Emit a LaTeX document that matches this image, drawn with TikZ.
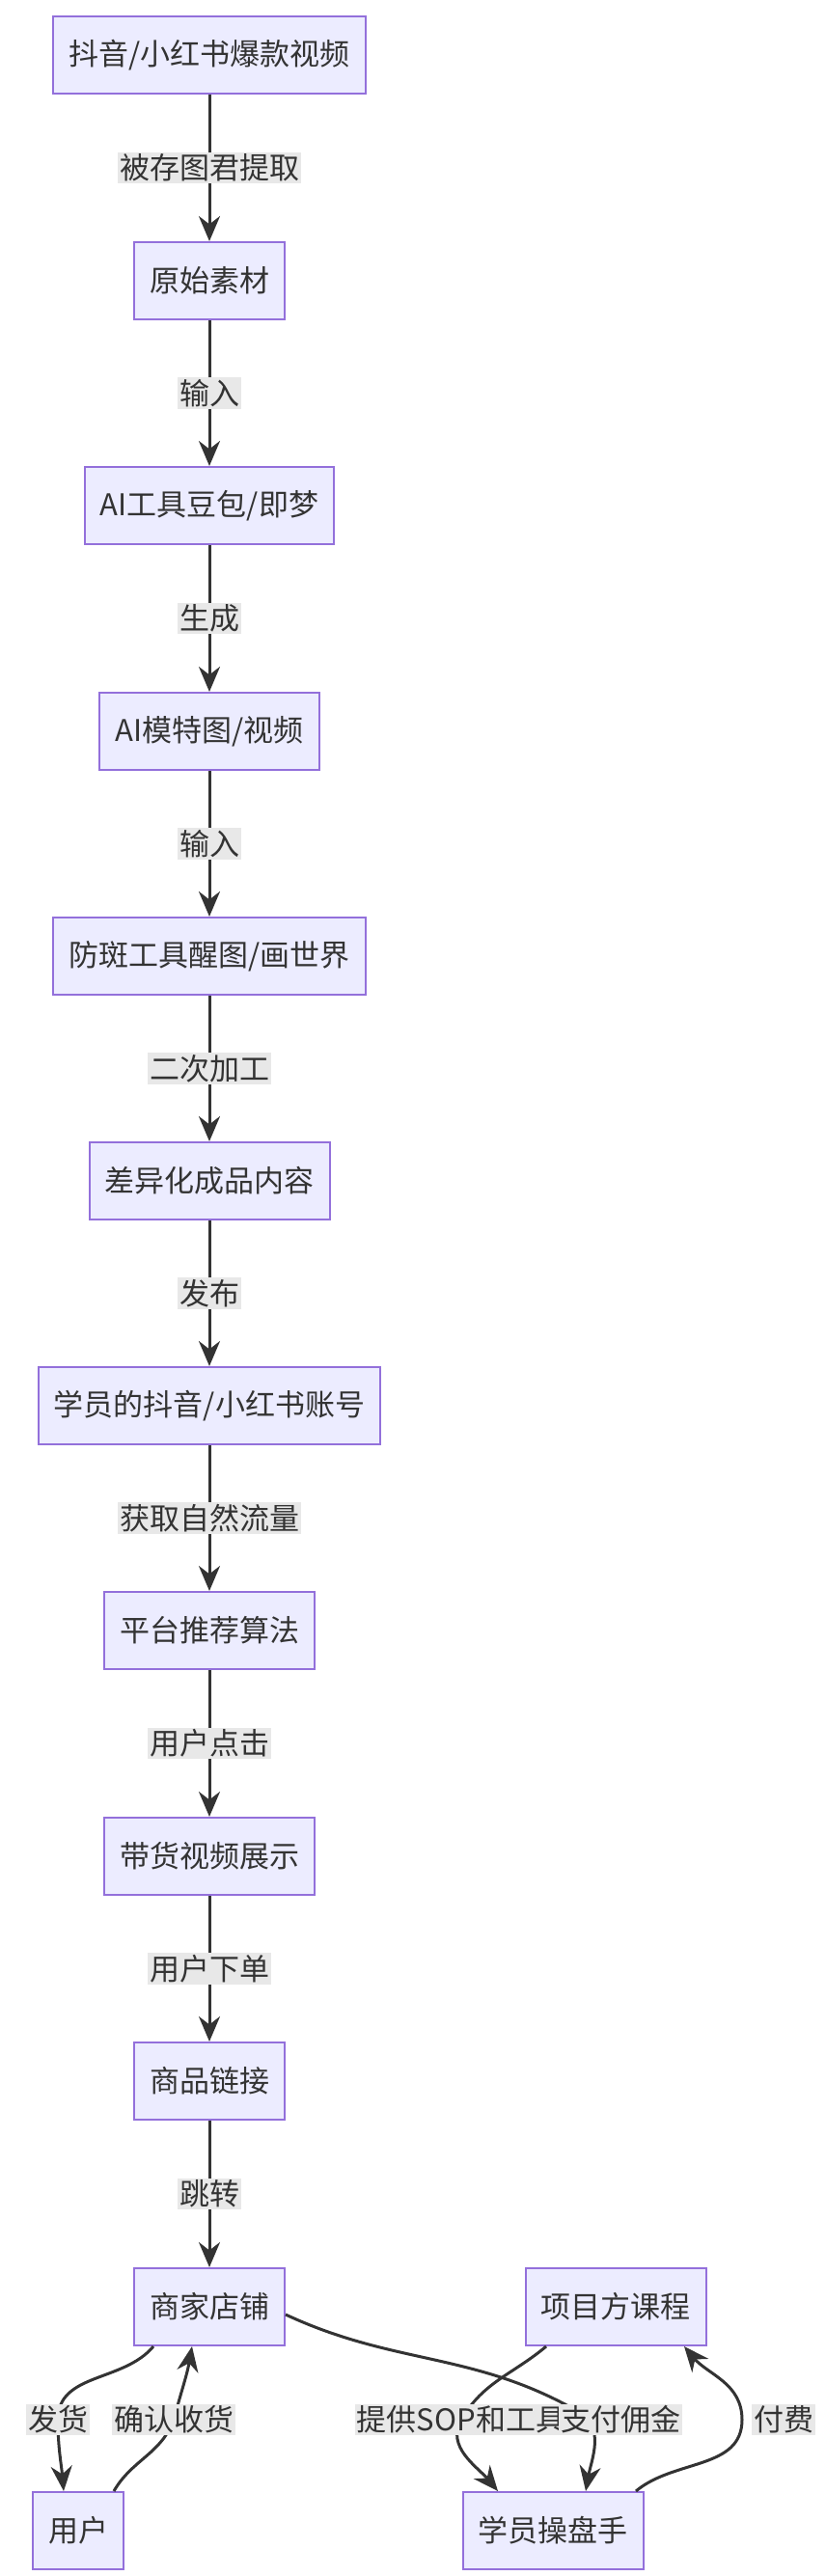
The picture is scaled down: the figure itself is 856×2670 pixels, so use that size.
\documentclass[tikz,border=0pt]{standalone}
\usepackage{fontspec}
\setmainfont{Noto Sans CJK SC}
\usetikzlibrary{positioning,arrows.meta}
\definecolor{boxfill}{HTML}{ECECFF}
\definecolor{boxline}{HTML}{9370DB}
\definecolor{linkc}{HTML}{333333}
\definecolor{lblfill}{HTML}{E8E8E8}
\tikzset{
  box/.style={draw=boxline,fill=boxfill,line width=2pt,minimum height=80pt,inner xsep=16pt,font=\fontsize{31}{37}\selectfont,text=linkc},
  link/.style={draw=linkc,line width=3pt,-{Stealth[length=26pt,width=22pt]}},
  lbl/.style={fill=lblfill,inner sep=2pt,font=\fontsize{31}{37}\selectfont,text=linkc}
}
\begin{document}
\begin{tikzpicture}[x=1pt,y=-1pt]
\useasboundingbox (0,0) rectangle (856,2670);
\node[box] (src) at (217,57) {抖音/小红书爆款视频};
\node[box] (raw) at (217,291) {原始素材};
\node[box] (ai) at (217,524) {AI工具豆包/即梦};
\node[box] (model) at (217,758) {AI模特图/视频};
\node[box] (fix) at (217,991) {防斑工具醒图/画世界};
\node[box] (prod) at (217,1224) {差异化成品内容};
\node[box] (acct) at (217,1457) {学员的抖音/小红书账号};
\node[box] (algo) at (217,1690) {平台推荐算法};
\node[box] (show) at (217,1924) {带货视频展示};
\node[box] (link) at (217,2157) {商品链接};
\node[box] (shop) at (217,2391) {商家店铺};
\node[box] (course) at (638,2391) {项目方课程};
\node[box] (user) at (81,2623) {用户};
\node[box] (op) at (573,2623) {学员操盘手};
% main chain
\draw[link] (src) -- node[lbl] {被存图君提取} (raw);
\draw[link] (raw) -- node[lbl] {输入} (ai);
\draw[link] (ai) -- node[lbl] {生成} (model);
\draw[link] (model) -- node[lbl] {输入} (fix);
\draw[link] (fix) -- node[lbl] {二次加工} (prod);
\draw[link] (prod) -- node[lbl] {发布} (acct);
\draw[link] (acct) -- node[lbl] {获取自然流量} (algo);
\draw[link] (algo) -- node[lbl] {用户点击} (show);
\draw[link] (show) -- node[lbl] {用户下单} (link);
\draw[link] (link) -- node[lbl] {跳转} (shop);
% bottom loop
\coordinate (m1) at (60,2508);
\coordinate (m2) at (180,2508);
\coordinate (m3) at (478,2508);
\coordinate (m4) at (600,2500);
\coordinate (m5) at (769,2508);
\draw[link] ([xshift=-58pt]shop.south) to[out=-130,in=90] (m1) to[out=-90,in=95] ([xshift=-15pt]user.north);
\draw[link] ([xshift=37pt]user.north) to[out=60,in=-110] (m2) to[out=75,in=-100] ([xshift=-18pt]shop.south);
\draw[link] ([yshift=-8pt]shop.east) to[out=-25,in=150] (m4) to[out=-30,in=80] ([xshift=34pt]op.north);
\draw[link] ([xshift=-72pt]course.south) to[out=-140,in=60] (m3) to[out=-120,in=130] ([xshift=-57pt]op.north);
\draw[link] ([xshift=86pt]op.north) to[out=40,in=-90] (m5) to[out=90,in=-50] ([xshift=71pt]course.south);
\node[lbl] at (m1) {发货};
\node[lbl] at (m2) {确认收货};
\node[lbl] at (m3) {提供SOP和工具};
\node[lbl] at (643,2508) {支付佣金};
\node[lbl] at (812,2508) {付费};
\end{tikzpicture}
\end{document}
